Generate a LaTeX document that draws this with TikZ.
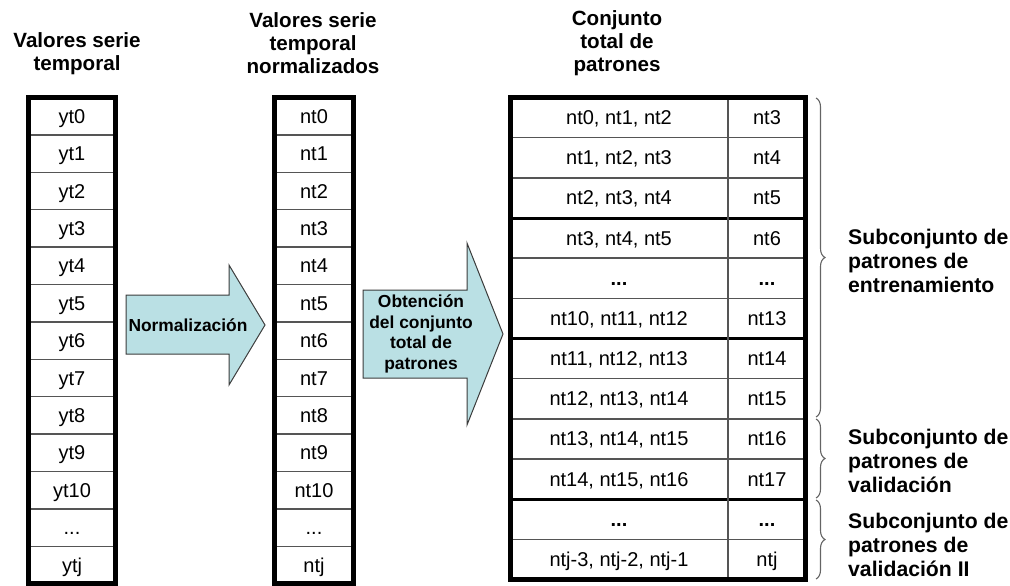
\documentclass[tikz,border=0pt]{standalone}
\usepackage{fontspec}
\setmainfont{Liberation Sans}
\usetikzlibrary{positioning,calc,decorations.pathreplacing}
\definecolor{arrowfill}{RGB}{186,224,228}
\definecolor{arrowline}{RGB}{60,60,60}
\definecolor{rowline}{RGB}{85,85,85}
\definecolor{bracec}{RGB}{100,100,100}
\newcommand\etcdots{...}
\newcommand\etcbold{\textbf{...}}

\begin{document}
\begin{tikzpicture}[x=1pt,y=-1pt,font=\fontsize{20}{23}\selectfont,
  hdr/.style={align=center,inner sep=0pt,font=\bfseries\fontsize{20.6}{23}\selectfont},
  cell/.style={anchor=base,inner sep=0pt},
  frame/.style={line width=5pt},
  sep/.style={rowline,line width=1.5pt},
  bigsep/.style={black,line width=3pt},
  flow/.style={fill=arrowfill,draw=arrowline,line width=1pt,line join=miter},
  flowtext/.style={align=center,inner sep=0pt,font=\bfseries\fontsize{17.4}{20.7}\selectfont},
  grp/.style={draw=bracec,line width=1.1pt,decorate,decoration={brace,amplitude=9pt}},
  grptext/.style={anchor=west,align=left,inner sep=0pt,font=\bfseries\fontsize{21.2}{23.8}\selectfont}]
  \useasboundingbox (0,0) rectangle (1010,586);

  % headers
  \node[hdr] (hraw) at (77,54) {Valores serie\\temporal};
  \node[hdr] (hnorm) at (313,43) {Valores serie\\temporal\\normalizados};
  \node[hdr] (hall) at (617,43) {Conjunto\\total de\\patrones};

  % raw series
  \foreach \k in {1,...,12}
    \draw[sep] (28.5,{97.5+\k*37.4}) -- (115.5,{97.5+\k*37.4});
  \foreach \lab [count=\i from 0] in {yt0,yt1,yt2,yt3,yt4,yt5,yt6,yt7,yt8,yt9,yt10,\etcdots,ytj}
    \node[cell] (y\i) at (72,{97.5+(\i+0.5)*37.4+7}) {\lab};
  \draw[frame] (28.5,97.5) rectangle (115.5,583.5);

  % normalized series
  \foreach \k in {1,...,12}
    \draw[sep] (274.5,{97.5+\k*37.4}) -- (353.5,{97.5+\k*37.4});
  \foreach \lab [count=\i from 0] in {nt0,nt1,nt2,nt3,nt4,nt5,nt6,nt7,nt8,nt9,nt10,\etcdots,ntj}
    \node[cell] (n\i) at (314,{97.5+(\i+0.5)*37.4+7}) {\lab};
  \draw[frame] (274.5,97.5) rectangle (353.5,583.5);

  % pattern set
  \foreach \k in {1,2,4,5,7,8,9,11}
    \draw[sep] (510.5,{97.5+\k*40.17}) -- (805.5,{97.5+\k*40.17});
  \foreach \k in {3,6,10}
    \draw[bigsep] (510.5,{97.5+\k*40.17}) -- (805.5,{97.5+\k*40.17});
  \draw[sep] (728,97.5) -- (728,579.5);
  \foreach \inp/\out [count=\i from 0] in {{nt0, nt1, nt2}/nt3,{nt1, nt2, nt3}/nt4,
      {nt2, nt3, nt4}/nt5,{nt3, nt4, nt5}/nt6,\etcbold/\etcbold,
      {nt10, nt11, nt12}/nt13,{nt11, nt12, nt13}/nt14,{nt12, nt13, nt14}/nt15,
      {nt13, nt14, nt15}/nt16,{nt14, nt15, nt16}/nt17,\etcbold/\etcbold,
      {ntj-3, ntj-2, ntj-1}/ntj}
  {
    \node[cell] (p\i) at (619,{97.5+(\i+0.5)*40.17+7}) {\inp};
    \node[cell] (q\i) at (767,{97.5+(\i+0.5)*40.17+7}) {\out};
  }
  \draw[frame] (510.5,97.5) rectangle (805.5,579.5);

  % block arrows
  \draw[flow] (126,295) -- (229,295) -- (229,265) -- (265,325) -- (229,385)
    -- (229,354) -- (126,354) -- cycle;
  \node[flowtext] (norm) at (188,325) {Normalizaci\'on};
  \draw[flow] (363,290) -- (467,290) -- (467,243) -- (503,334) -- (467,425)
    -- (467,378) -- (363,378) -- cycle;
  \node[flowtext] (obt) at (421,334) {Obtenci\'on\\del conjunto\\total de\\patrones};

  % subsets
  \draw[grp] (816,98) -- (816,417);
  \draw[grp] (816,419) -- (816,498);
  \draw[grp] (816,500) -- (816,579);
  \node[grptext] (train) at (848,261) {Subconjunto de\\patrones de\\entrenamiento};
  \node[grptext] (valid) at (848,461) {Subconjunto de\\patrones de\\validaci\'on};
  \node[grptext] (valid2) at (848,545) {Subconjunto de\\patrones de\\validaci\'on II};
\end{tikzpicture}
\end{document}
